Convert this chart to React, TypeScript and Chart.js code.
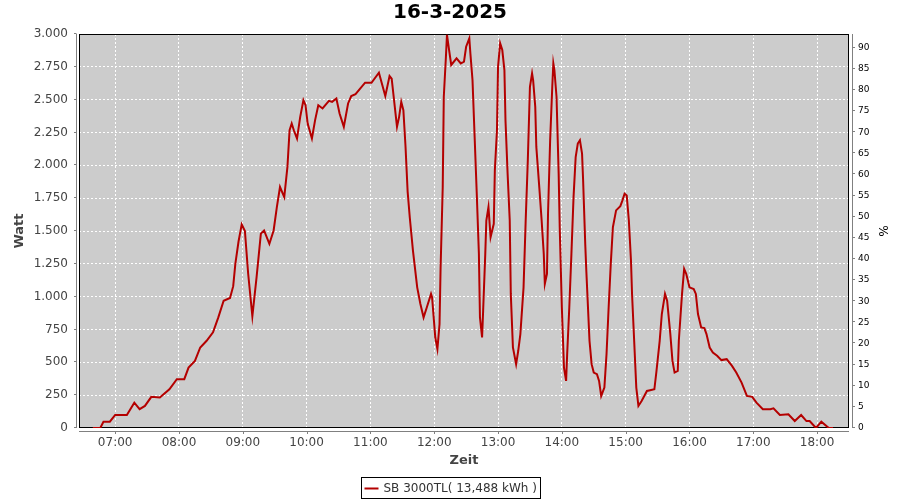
import React, { useEffect, useRef } from "react";
import { Chart, registerables } from "chart.js";

Chart.register(...registerables);

const TITLE = "16-3-2025";
const SERIES_LABEL = "SB 3000TL( 13,488 kWh )";
const X_TITLE = "Zeit";
const Y_TITLE = "Watt";
const Y2_TITLE = "%";

const TIMES = [
  "06:39", "06:46", "06:49", "06:55", "07:00", "07:11", "07:18", "07:23", "07:28", "07:34",
  "07:42", "07:51", "07:58", "08:05", "08:09", "08:15", "08:20", "08:26", "08:32", "08:37",
  "08:42", "08:48", "08:51", "08:53", "08:56", "08:59", "09:02", "09:05", "09:09", "09:13",
  "09:17", "09:20", "09:25", "09:29", "09:32", "09:35", "09:39", "09:42", "09:44", "09:46",
  "09:48", "09:51", "09:54", "09:57", "09:59", "10:01", "10:05", "10:08", "10:11", "10:15",
  "10:21", "10:24", "10:28", "10:31", "10:35", "10:39", "10:42", "10:46", "10:55", "11:01",
  "11:08", "11:14", "11:18", "11:20", "11:25", "11:27", "11:29", "11:31", "11:33", "11:35",
  "11:37", "11:40", "11:44", "11:47", "11:50", "11:53", "11:57", "11:58", "12:01", "12:03",
  "12:05", "12:06", "12:08", "12:09", "12:11", "12:12", "12:14", "12:16", "12:21", "12:25",
  "12:28", "12:30", "12:33", "12:34", "12:36", "12:38", "12:40", "12:42", "12:43", "12:45",
  "12:46", "12:48", "12:49", "12:51", "12:53", "12:56", "12:57", "12:59", "13:00", "13:02",
  "13:04", "13:06", "13:07", "13:09", "13:11", "13:12", "13:14", "13:17", "13:19", "13:21",
  "13:24", "13:26", "13:28", "13:30", "13:32", "13:33", "13:35", "13:36", "13:39", "13:41",
  "13:43", "13:44", "13:46", "13:47", "13:49", "13:51", "13:52", "13:53", "13:55", "13:57",
  "13:58", "14:00", "14:02", "14:04", "14:05", "14:07", "14:09", "14:11", "14:13", "14:15",
  "14:17", "14:19", "14:20", "14:22", "14:23", "14:25", "14:26", "14:28", "14:30", "14:33",
  "14:35", "14:37", "14:40", "14:42", "14:44", "14:46", "14:48", "14:51", "14:55", "14:57",
  "14:59", "15:01", "15:03", "15:05", "15:06", "15:08", "15:10", "15:12", "15:15", "15:20",
  "15:23", "15:27", "15:29", "15:32", "15:34", "15:37", "15:39", "15:42", "15:44", "15:46",
  "15:49", "15:50", "15:53", "15:55", "15:57", "16:00", "16:04", "16:06", "16:08", "16:11",
  "16:14", "16:16", "16:19", "16:22", "16:26", "16:30", "16:35", "16:40", "16:44", "16:49",
  "16:54", "16:59", "17:03", "17:09", "17:16", "17:19", "17:25", "17:33", "17:39", "17:45",
  "17:50", "17:53", "17:59", "18:04", "18:11", "18:15",
];

const WATTS = [
  0, 0, 48, 48, 99, 99, 193, 143, 168, 237,
  232, 295, 372, 372, 460, 511, 613, 664, 728, 842,
  969, 990, 1080, 1250, 1420, 1550, 1500, 1180, 850, 1150,
  1480, 1504, 1402, 1504, 1680, 1835, 1758, 1990, 2267, 2318,
  2267, 2204, 2369, 2496, 2458, 2318, 2204, 2344, 2458, 2433,
  2491, 2483, 2509, 2395, 2293, 2471, 2527, 2542, 2629, 2629,
  2705, 2527, 2680, 2660, 2293, 2369, 2483, 2420, 2145, 1800,
  1605, 1351, 1071, 944, 842, 918, 1021, 995, 689, 601,
  792, 1224, 1835, 2522, 2827, 2993, 2878, 2764, 2815, 2776,
  2789, 2903, 2967, 2853, 2649, 2216, 1784, 1326, 842, 689,
  893, 1326, 1580, 1682, 1453, 1555, 1962, 2267, 2751, 2929,
  2878, 2725, 2344, 1937, 1580, 1021, 613, 486, 588, 715,
  1071, 1580, 2038, 2598, 2700, 2649, 2445, 2140, 1809, 1580,
  1326, 1097, 1173, 1631, 2191, 2598, 2776, 2725, 2522, 1937,
  1529, 918, 460, 359, 562, 918, 1326, 1758, 2063, 2166,
  2191, 2089, 1886, 1400, 1199, 842, 664, 486, 422, 410,
  359, 244, 308, 562, 918, 1250, 1529, 1657, 1689, 1733,
  1784, 1771, 1580, 1275, 1021, 664, 308, 168, 206, 282,
  288, 295, 435, 664, 868, 1021, 969, 715, 511, 422,
  435, 664, 1021, 1211, 1173, 1071, 1058, 1021, 868, 766,
  761, 715, 613, 575, 550, 517, 524, 473, 422, 346,
  244, 237, 193, 143, 143, 150, 99, 105, 53, 99,
  53, 53, 0, 48, 0, 0,
];

const HOUR_TICKS = [
  "07:00", "08:00", "09:00", "10:00", "11:00", "12:00",
  "13:00", "14:00", "15:00", "16:00", "17:00", "18:00",
];
const X_RANGE = ["06:26", "18:30"];

const WATT_TICKS = [0, 250, 500, 750, 1000, 1250, 1500, 1750, 2000, 2250, 2500, 2750, 3000];
const WATT_TICK_LABELS = [
  "0", "250", "500", "750", "1.000", "1.250", "1.500", "1.750",
  "2.000", "2.250", "2.500", "2.750", "3.000",
];
const PCT_TICKS = [0, 5, 10, 15, 20, 25, 30, 35, 40, 45, 50, 55, 60, 65, 70, 75, 80, 85, 90];
const PCT_MAX = 93.25;

const FONT = "'DejaVu Sans', sans-serif";
const LINE_COLOR = "#b40000";

const toMin = (s: string) => {
  const [h, m] = s.split(":").map(Number);
  return h * 60 + m;
};

const framePlugin = {
  id: "frame",
  beforeDraw(chart: any) {
    const { ctx, chartArea } = chart;
    const { left, top, right, bottom } = chartArea;
    ctx.save();
    ctx.fillStyle = "#ffffff";
    ctx.fillRect(0, 0, chart.width, chart.height);
    ctx.fillStyle = "#cccccc";
    ctx.fillRect(left, top, right - left, bottom - top);
    ctx.restore();
  },
  beforeDatasetsDraw(chart: any) {
    const { ctx, chartArea } = chart;
    const { left, top, right, bottom } = chartArea;
    ctx.save();
    ctx.strokeStyle = "#000000";
    ctx.lineWidth = 1;
    ctx.strokeRect(left + 0.5, top + 0.5, right - left - 1, bottom - top - 1);
    ctx.restore();
  },
  afterDraw(chart: any) {
    const { ctx, chartArea, scales } = chart;
    const { left, top, right, bottom } = chartArea;
    ctx.save();
    ctx.strokeStyle = "#808080";
    ctx.lineWidth = 1;
    ctx.beginPath();
    // left axis
    const lx = left - 2.5;
    ctx.moveTo(lx, top);
    ctx.lineTo(lx, bottom);
    scales.y.ticks.forEach((t: any) => {
      const y = Math.round(scales.y.getPixelForValue(t.value)) - 0.5;
      ctx.moveTo(lx - 2.5, y);
      ctx.lineTo(lx, y);
    });
    // right axis
    const rx = right + 3.5;
    ctx.moveTo(rx, top);
    ctx.lineTo(rx, bottom);
    scales.pct.ticks.forEach((t: any) => {
      const y = Math.round(scales.pct.getPixelForValue(t.value)) - 0.5;
      ctx.moveTo(rx, y);
      ctx.lineTo(rx + 2.5, y);
    });
    // bottom axis
    const by = bottom + 3.5;
    ctx.moveTo(left, by);
    ctx.lineTo(right, by);
    scales.x.ticks.forEach((t: any) => {
      const x = Math.round(scales.x.getPixelForValue(t.value)) + 0.5;
      ctx.moveTo(x, by);
      ctx.lineTo(x, by + 2.5);
    });
    ctx.stroke();

    // legend
    const ds = chart.data.datasets[0];
    ctx.font = "12px " + FONT;
    const tw = ctx.measureText(ds.label).width;
    const boxW = Math.round(tw + 26);
    const boxH = 21;
    const bx = Math.round(chart.width / 2 - boxW / 2) + 0.5;
    const bY = 477.5;
    ctx.strokeStyle = "#000000";
    ctx.strokeRect(bx, bY, boxW, boxH);
    ctx.strokeStyle = ds.borderColor;
    ctx.lineWidth = 2;
    ctx.beginPath();
    ctx.moveTo(bx + 3, bY + 11);
    ctx.lineTo(bx + 17, bY + 11);
    ctx.stroke();
    ctx.fillStyle = "#333333";
    ctx.textBaseline = "middle";
    ctx.textAlign = "left";
    ctx.fillText(ds.label, bx + 22, bY + 11);
    ctx.restore();
  },
};

export default function App() {
  const canvasRef = useRef<HTMLCanvasElement | null>(null);

  useEffect(() => {
    const canvas = canvasRef.current;
    if (!canvas) return;
    Chart.defaults.font.family = FONT;

    const chart = new Chart(canvas, {
      type: "line",
      data: {
        datasets: [
          {
            label: SERIES_LABEL,
            data: TIMES.map((t, i) => ({ x: toMin(t), y: WATTS[i] })),
            borderColor: LINE_COLOR,
            borderWidth: 2,
            pointRadius: 0,
            tension: 0,
            fill: false,
            xAxisID: "x",
            yAxisID: "y",
          },
        ],
      },
      options: {
        responsive: false,
        animation: false,
        devicePixelRatio: 1,
        layout: { padding: 0 },
        plugins: {
          legend: { display: false },
          tooltip: { enabled: false },
          title: {
            display: true,
            text: TITLE,
            color: "#000000",
            font: { family: FONT, size: 20, weight: "bold" },
            padding: { top: 1, bottom: 9 },
          },
        },
        scales: {
          x: {
            type: "linear",
            position: "bottom",
            min: toMin(X_RANGE[0]),
            max: toMin(X_RANGE[1]),
            afterBuildTicks: (s: any) => {
              s.ticks = HOUR_TICKS.map((h) => ({ value: toMin(h) }));
            },
            afterFit: (s: any) => {
              s.height = 72;
            },
            ticks: {
              autoSkip: false,
              maxRotation: 0,
              padding: 8,
              color: "#444444",
              font: { family: FONT, size: 12 },
              callback: (_v: any, i: number) => HOUR_TICKS[i],
            },
            grid: { color: "#ffffff", lineWidth: 1, drawTicks: false },
            border: { display: false, dash: [2, 2] },
            title: {
              display: true,
              text: X_TITLE,
              color: "#444444",
              font: { family: FONT, size: 13, weight: "bold" },
              padding: { top: 4, bottom: 32 },
            },
          },
          y: {
            type: "linear",
            position: "left",
            min: 0,
            max: 3000,
            afterBuildTicks: (s: any) => {
              s.ticks = WATT_TICKS.map((v) => ({ value: v }));
            },
            afterFit: (s: any) => {
              s.width = 79;
            },
            ticks: {
              padding: 11,
              color: "#444444",
              font: { family: FONT, size: 12 },
              callback: (_v: any, i: number) => WATT_TICK_LABELS[i],
            },
            grid: { color: "#ffffff", lineWidth: 1, drawTicks: false },
            border: { display: false, dash: [2, 2] },
            title: {
              display: true,
              text: Y_TITLE,
              color: "#444444",
              font: { family: FONT, size: 13, weight: "bold" },
              padding: { top: 12, bottom: 0 },
            },
          },
          pct: {
            type: "linear",
            position: "right",
            min: 0,
            max: PCT_MAX,
            afterBuildTicks: (s: any) => {
              s.ticks = PCT_TICKS.map((v) => ({ value: v }));
            },
            afterFit: (s: any) => {
              s.width = 51;
            },
            ticks: {
              padding: 9,
              color: "#000000",
              font: { family: FONT, size: 9 },
              callback: (v: any) => String(v),
            },
            grid: { display: false, drawTicks: false },
            border: { display: false },
            title: {
              display: true,
              text: Y2_TITLE,
              color: "#000000",
              font: { family: FONT, size: 12 },
              padding: { top: 11, bottom: 0 },
            },
          },
        },
      },
      plugins: [framePlugin],
    } as any);

    return () => {
      chart.destroy();
    };
  }, []);

  return (
    <div style={{ position: "absolute", left: 0, top: 0, width: 900, height: 500, background: "#fff" }}>
      <canvas ref={canvasRef} width={900} height={500} style={{ display: "block" }} />
    </div>
  );
}
